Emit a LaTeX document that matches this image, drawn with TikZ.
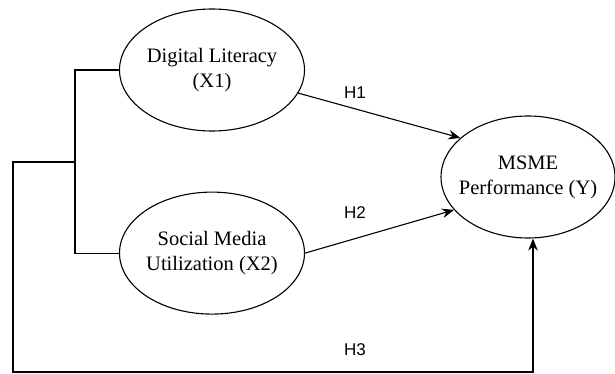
\documentclass[tikz,border=0pt]{standalone}
\usepackage{fontspec}
\setmainfont{Liberation Serif}
\setsansfont{Liberation Sans}
\usetikzlibrary{
  arrows.meta,
  shapes.geometric,
  positioning
}
\tikzset{
  >={Stealth[length=12pt,width=9.5pt]},
  node distance = 60pt and 1cm,
  latent/.style = {draw, ellipse, inner ysep=0pt, inner xsep=-20pt,
                   minimum width=185pt, minimum height=122pt,
                   align=center, font=\fontsize{20.5}{25}\selectfont},
  hyplabel/.style = {font=\sffamily\fontsize{17}{19}\selectfont},
}

\begin{document}
\begin{tikzpicture}[x=1pt, y=-1pt, line width=1.1pt]
\useasboundingbox (0,0) rectangle (615,374);
\node[latent] (x1) at (212,70) {Digital Literacy\\(X1)};
\node[latent, below=of x1] (x2) {Social Media\\Utilization (X2)};
\node[latent, minimum width=174pt] (y) at (528,177) {MSME\\Performance (Y)};

% bracket joining the two predictors
\coordinate (jn) at (75,162);
\coordinate (lft) at (13,162);
\coordinate (bot) at (533,372);
\draw (x1.west) -| (jn) |- (x2.west);

% hypotheses
\draw[->] (x1.-15) -- (y.150);
\draw[->] (x2.east) -- (y.204);
\draw[->] (jn) -- (lft) |- (bot) -- (y.south -| bot);

\node[hyplabel] (h1) at (355,93) {H1};
\node[hyplabel] (h2) at (355,213) {H2};
\node[hyplabel] (h3) at (355,350) {H3};
\end{tikzpicture}
\end{document}
